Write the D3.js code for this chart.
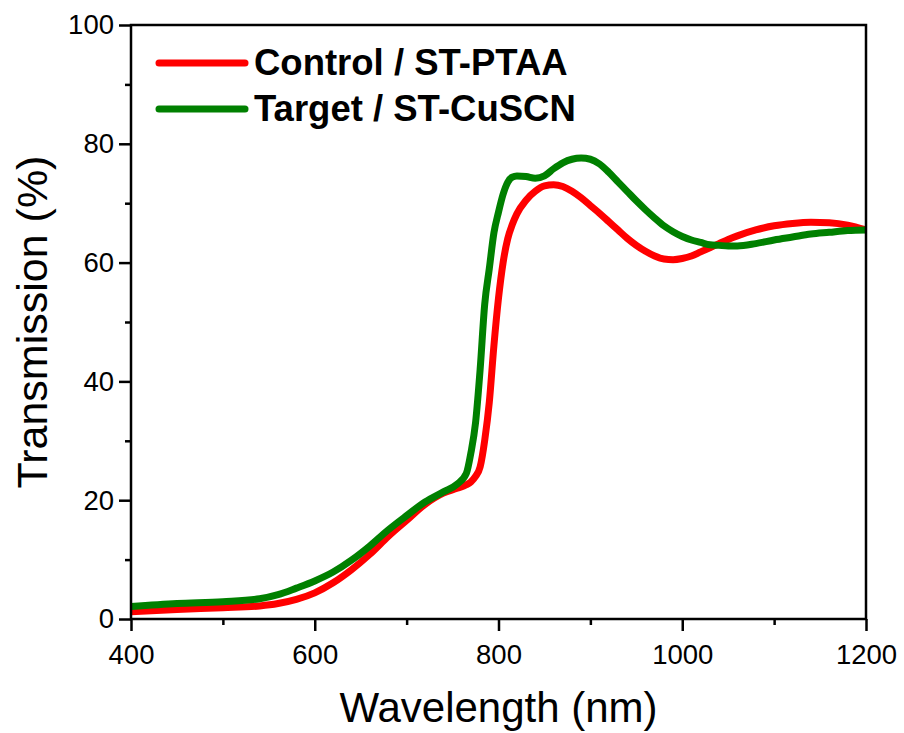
<!DOCTYPE html>
<html>
<head>
<meta charset="utf-8">
<script src="https://cdn.jsdelivr.net/npm/d3@7"></script>
<style>
  html, body { margin: 0; padding: 0; background: #fff; }
  svg { display: block; font-family: 'Liberation Sans', Arial, sans-serif; }
</style>
</head>
<body>
<svg id="chart" width="904" height="733"></svg>
<script>
// wavelength grid (nm)
const wavelength = [400, 450, 500, 540, 560, 580, 600, 620, 640, 660, 680, 700, 720, 740, 755, 765,
  770, 775, 780, 785, 790, 795, 800, 805, 810, 815, 820, 830, 840, 850, 860, 870, 880, 890, 900,
  910, 920, 930, 940, 950, 960, 970, 980, 990, 1000, 1010, 1020, 1030, 1040, 1050, 1060, 1080,
  1100, 1120, 1140, 1160, 1180, 1200];

// Control / ST-PTAA transmission (%)
const control = [1.2, 1.6, 1.9, 2.2, 2.6, 3.3, 4.4, 6.1, 8.3, 10.9, 13.9, 16.6, 19.3, 21.2, 22.0, 22.6,
  23.1, 24.0, 25.6, 30.1, 36.5, 46, 54, 60, 64, 66.4, 68.2, 70.5, 72.0, 72.9, 73.1, 72.8, 72.0, 70.9, 69.6,
  68.3, 66.9, 65.5, 64.1, 62.9, 61.9, 61.1, 60.6, 60.5, 60.7, 61.1, 61.8, 62.5, 63.2, 63.9, 64.5, 65.5,
  66.2, 66.6, 66.8, 66.7, 66.3, 65.5];

// Target / ST-CuSCN transmission (%)
const target = [2.1, 2.6, 2.9, 3.4, 4.1, 5.2, 6.4, 7.9, 9.9, 12.3, 15.0, 17.4, 19.7, 21.4, 22.7, 24.5,
  28.0, 33, 42, 53, 59, 65, 68.5, 71.5, 73.5, 74.4, 74.6, 74.5, 74.2, 74.6, 75.8, 76.8, 77.4, 77.6, 77.4,
  76.6, 75.2, 73.6, 72.0, 70.4, 68.9, 67.5, 66.2, 65.2, 64.4, 63.8, 63.4, 63.0, 62.9, 62.8, 62.8, 63.2,
  63.8, 64.3, 64.8, 65.1, 65.4, 65.5];

const seriesNames = ['Control / ST-PTAA', 'Target / ST-CuSCN'];
const seriesColors = ['#ff0000', '#008000'];
const xTicks = [400, 600, 800, 1000, 1200];
const xMinorTicks = [500, 700, 900, 1100];
const yTicks = [0, 20, 40, 60, 80, 100];
const yMinorTicks = [10, 30, 50, 70, 90];

const svg = d3.select('#chart');
const margin = {top: 25, right: 38, bottom: 114, left: 131};
const width = +svg.attr('width');
const height = +svg.attr('height');
const chartRight = width - margin.right;
const chartBottom = height - margin.bottom;

const xScale = d3.scaleLinear().domain([400, 1200]).range([margin.left, chartRight]);
const yScale = d3.scaleLinear().domain([0, 100]).range([chartBottom, margin.top]);

const axisColor = '#000';
const axisWidth = 2.5;

// curves
const series = [control, target];
const line = d3.line()
  .x((d, i) => xScale(wavelength[i]))
  .y((d) => yScale(d))
  .curve(d3.curveMonotoneX);

const plot = svg.append('g');
series.forEach((vals, k) => {
  plot.append('path')
    .datum(vals)
    .attr('d', line)
    .attr('fill', 'none')
    .attr('stroke', seriesColors[k])
    .attr('stroke-width', 7)
    .attr('stroke-linejoin', 'round');
});

// frame
svg.append('rect')
  .attr('x', margin.left)
  .attr('y', margin.top)
  .attr('width', chartRight - margin.left)
  .attr('height', chartBottom - margin.top)
  .attr('fill', 'none')
  .attr('stroke', axisColor)
  .attr('stroke-width', axisWidth);

function styleAxis(g) {
  g.select('.domain').remove();
  g.selectAll('line').attr('stroke', axisColor).attr('stroke-width', axisWidth);
  g.selectAll('text').attr('fill', '#000').attr('font-size', '27.5px');
}

// x axis
svg.append('g')
  .attr('transform', `translate(0,${chartBottom})`)
  .call(d3.axisBottom(xScale).tickValues(xTicks).tickSize(12).tickPadding(13).tickFormat(d3.format('d')))
  .call(styleAxis);
svg.append('g')
  .attr('transform', `translate(0,${chartBottom})`)
  .call(d3.axisBottom(xScale).tickValues(xMinorTicks).tickSize(6).tickFormat(''))
  .call(styleAxis);

// y axis
svg.append('g')
  .attr('transform', `translate(${margin.left},0)`)
  .call(d3.axisLeft(yScale).tickValues(yTicks).tickSize(12).tickPadding(5).tickFormat(d3.format('d')))
  .call(styleAxis);
svg.append('g')
  .attr('transform', `translate(${margin.left},0)`)
  .call(d3.axisLeft(yScale).tickValues(yMinorTicks).tickSize(6).tickFormat(''))
  .call(styleAxis);

// axis titles
svg.append('text')
  .attr('x', (margin.left + chartRight) / 2)
  .attr('y', 722)
  .attr('text-anchor', 'middle')
  .attr('font-size', '42px')
  .text('Wavelength (nm)');

svg.append('text')
  .attr('transform', `translate(47,${(margin.top + chartBottom) / 2}) rotate(-90)`)
  .attr('text-anchor', 'middle')
  .attr('font-size', '43px')
  .text('Transmission (%)');

// legend
const legend = svg.append('g');
seriesNames.forEach((name, k) => {
  const ly = 63 + k * 46;
  legend.append('line')
    .attr('x1', 159).attr('x2', 245)
    .attr('y1', ly).attr('y2', ly)
    .attr('stroke', seriesColors[k])
    .attr('stroke-width', 7)
    .attr('stroke-linecap', 'round');
  legend.append('text')
    .attr('x', 254)
    .attr('y', ly + 12)
    .attr('font-size', '36.5px')
    .attr('font-weight', 'bold')
    .text(name);
});
</script>
</body>
</html>
